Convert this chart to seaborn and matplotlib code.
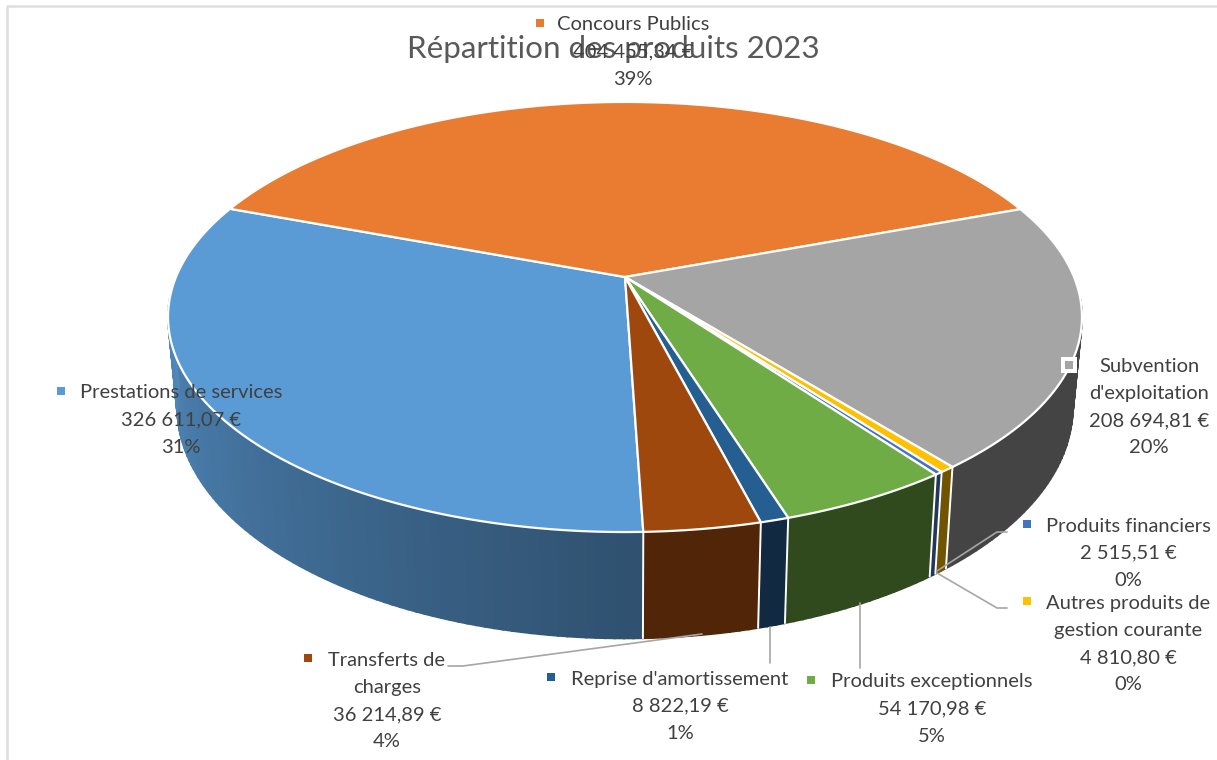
import numpy as np
import matplotlib
matplotlib.use("Agg")
import matplotlib.pyplot as plt
import seaborn as sns

# slices, clockwise from the first one
categories = ["Prestations de services", "Concours Publics", "Subvention\nd'exploitation",
              "Autres produits de\ngestion courante", "Produits financiers",
              "Produits exceptionnels", "Reprise d'amortissement", "Transferts de\ncharges"]
values = [326611.07, 404455.34, 208694.81, 4810.80, 2515.51, 54170.98, 8822.19, 36214.89]
percents = ["31%", "39%", "20%", "0%", "0%", "5%", "1%", "4%"]
colors = ["#5B9BD5", "#E97C30", "#A5A5A5", "#FFC000", "#4472C4", "#6FAC46", "#255E91", "#9E480E"]
title = "Répartition des produits 2023"

# wall darkening at the start / end of each slice
wall_shade = [(0.52, 0.9), (0.5, 0.5), (0.41, 0.41), (0.44, 0.44),
              (0.48, 0.48), (0.43, 0.43), (0.45, 0.45), (0.51, 0.54)]

# center of the key square, center of the text, first line y
label_pos = [(61, 391, 181, 393), (540, 23, 633, 25), (1069, 365, 1149, 366), (1027, 601, 1128, 603),
             (1027, 524, 1128, 526), (811, 680, 932, 682), (551, 677, 680, 679), (308, 658, 387, 660)]
leaders = [[(448, 666), (463, 666), (702, 634)],
           [(770, 627), (770, 663)],
           [(860, 603), (860, 668)],
           [(937, 571), (997, 532), (1007, 532)],
           [(937, 573), (997, 608), (1007, 608)]]

CX, CY = 625, 277
A, B, K = 449, 207.6, 0.186
START = 88.1


def project(theta, sx=1.0, sy=1.0, off=0.0):
    t = np.radians(theta)
    x, y = np.cos(t), np.sin(t)
    w = 1 - K * y
    return CX + sx * A * x / w, CY + off + sy * B * y / w


def top_rim(theta):
    return project(theta)


def bottom_rim(theta):
    return project(theta, sx=0.98, sy=1.076, off=87)


def shade(color, f):
    return tuple(c * f for c in matplotlib.colors.to_rgb(color))


def euro(v):
    return f"{v:,.2f}".replace(",", " ").replace(".", ",") + " €"


sns.set_theme(style="white")
plt.rcParams['font.family'] = ['Lato', 'DejaVu Sans']
palette = sns.color_palette(colors)

fig = plt.figure(figsize=(12.17, 7.6), dpi=100)
ax = fig.add_axes([0, 0, 1, 1])
ax.set_xlim(0, 1217)
ax.set_ylim(760, 0)
ax.axis("off")

# chart frame
ax.plot([7, 7, 1217], [760, 6, 6], color="#DEDEDE", lw=1.8, zorder=1)

shares = np.array(values) / np.sum(values) * 360
ends = START + np.cumsum(shares)
starts = ends - shares

# side walls, only the part facing the viewer
for i, (a, b) in enumerate(zip(starts, ends)):
    thetas = np.linspace(a, b, max(int(b - a), 2) + 1)
    for t0, t1 in zip(thetas[:-1], thetas[1:]):
        mid = (t0 + t1) / 2
        if np.sin(np.radians(mid)) < 0.1:
            continue
        tx0, ty0 = top_rim(t0)
        tx1, ty1 = top_rim(t1)
        bx0, by0 = bottom_rim(t0)
        bx1, by1 = bottom_rim(t1)
        f = np.interp(mid, [a, a + 92], wall_shade[i]) if i == 0 else wall_shade[i][0]
        c = shade(palette[i], f)
        ax.fill([tx0, tx1, bx1, bx0], [ty0, ty1, by1, by0], color=c, lw=1.3, zorder=2)

# white separators on the walls
for t in starts:
    if np.sin(np.radians(t)) > 0.1:
        tx, ty = top_rim(t)
        bx, by = bottom_rim(t)
        ax.plot([tx, bx], [ty, by], color="white", lw=1.4, zorder=3)

# top face
for i, (a, b) in enumerate(zip(starts, ends)):
    thetas = np.linspace(a, b, max(int((b - a) * 3), 2) + 1)
    x, y = top_rim(thetas)
    ax.fill(np.r_[CX, x], np.r_[CY, y], facecolor=palette[i], edgecolor="white",
            lw=1.6, joinstyle="round", zorder=4)

for pts in leaders:
    xs, ys = zip(*pts)
    ax.plot(xs, ys, color="#A6A6A6", lw=1.2, zorder=5)

ax.text(613, 49, title, fontsize=22.6, color="#595959", ha="center", va="center", zorder=6)

# data labels
line_h = 27.2
for i, (kx, ky, tx, ty) in enumerate(label_pos):
    if i == 2:
        ax.scatter([kx], [ky], marker="s", s=130, color="white", lw=0, zorder=6)
    ax.scatter([kx], [ky], marker="s", s=34, color=palette[i], lw=0, zorder=7)
    lines = categories[i].split("\n") + [euro(values[i]), percents[i]]
    for j, line in enumerate(lines):
        ax.text(tx, ty + j * line_h, line, fontsize=14.5, color="#404040",
                ha="center", va="center", zorder=7)

fig.savefig("out.png", dpi=100)
